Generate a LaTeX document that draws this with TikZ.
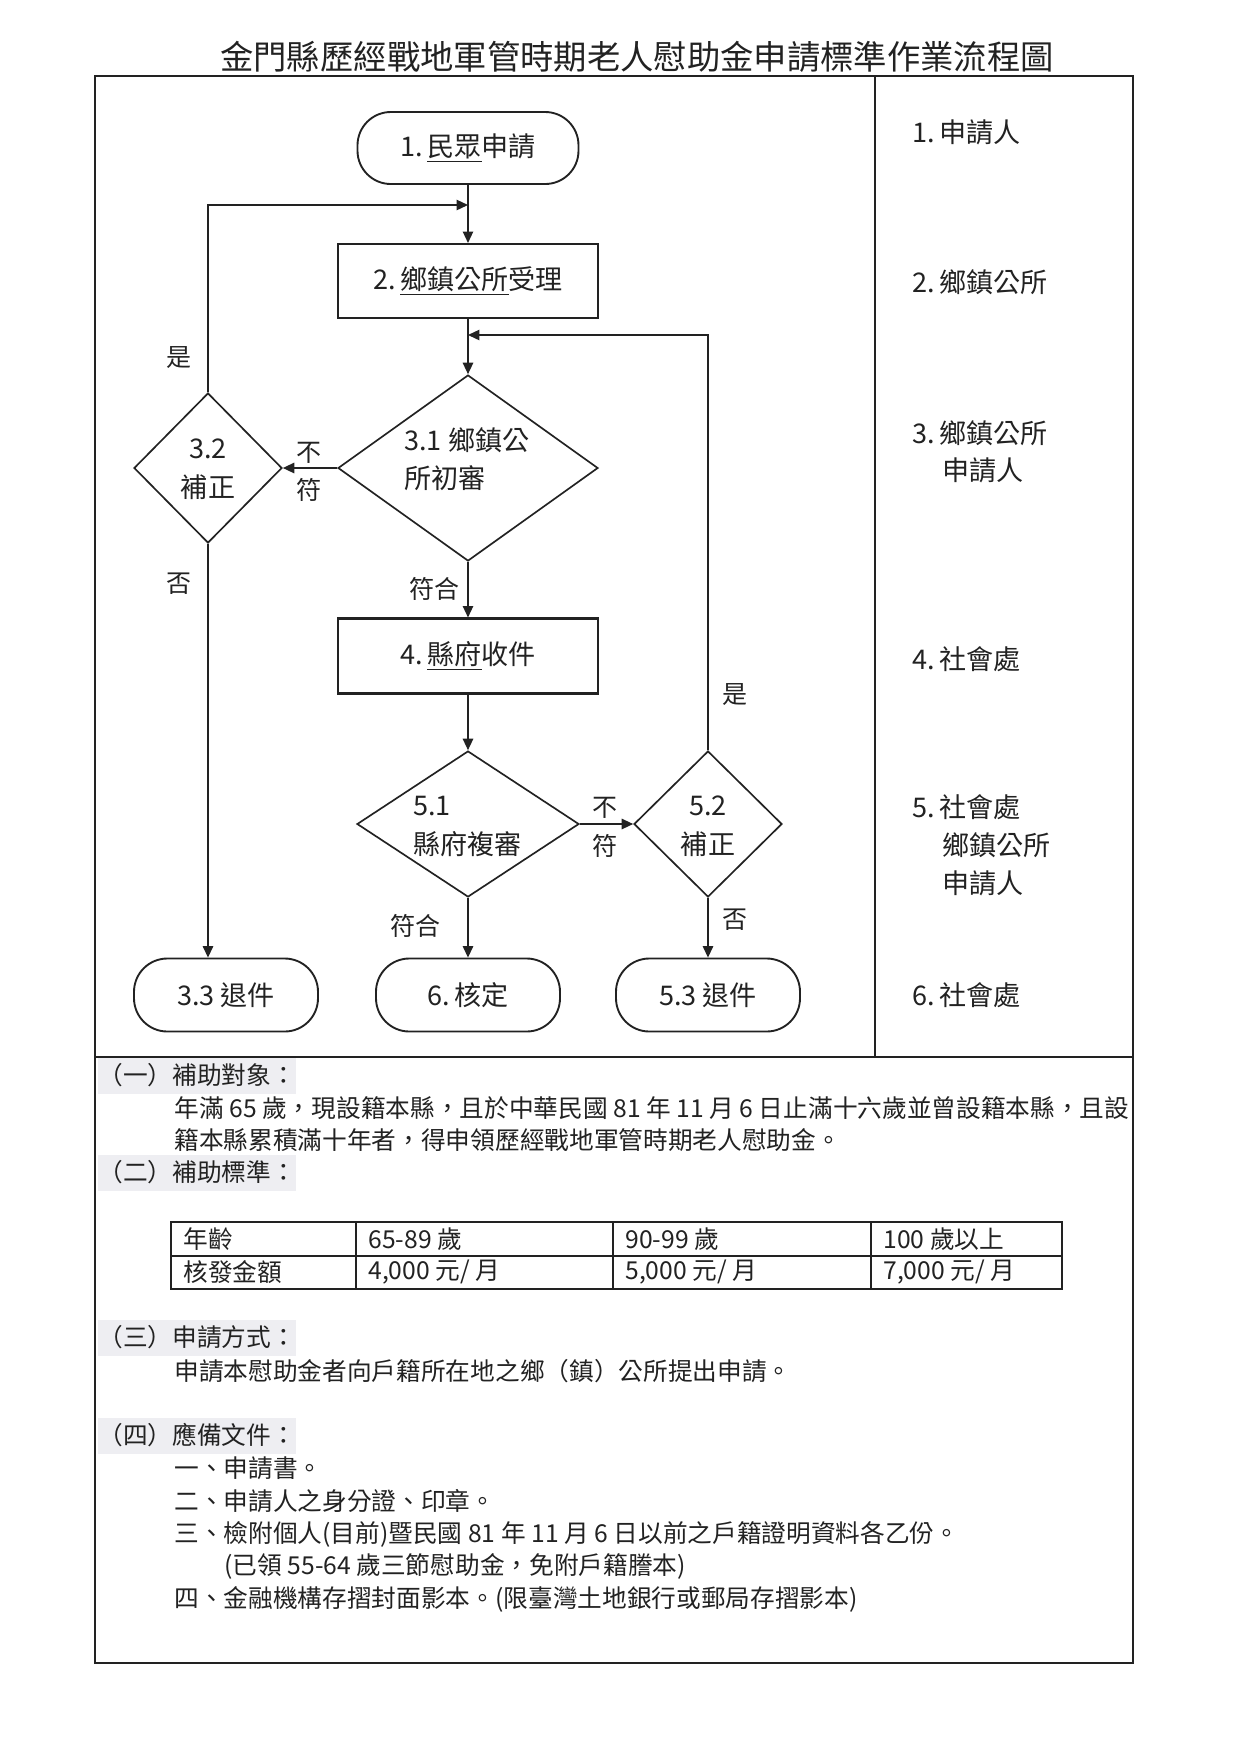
\documentclass[tikz,border=0pt]{standalone}
\usepackage{fontspec}
\setmainfont{Noto Sans CJK TC}
\usetikzlibrary{shapes.geometric,arrows.meta,calc}
\definecolor{ink}{HTML}{222222}
\definecolor{hdbg}{HTML}{EEEEF2}
\begin{document}
\begin{tikzpicture}[x=0.48pt,y=-0.48pt,
  every node/.style={inner sep=0pt, text=ink},
  ftext/.style={font=\fontsize{13pt}{16pt}\selectfont},
  btext/.style={font=\fontsize{11.85pt}{14pt}\selectfont, anchor=west},
  lbl/.style={font=\fontsize{12pt}{14pt}\selectfont},
  term/.style={draw=ink, line width=0.9pt, rounded corners=16pt, minimum width=184*0.48pt, minimum height=73*0.48pt, ftext},
  proc/.style={draw=ink, line width=1pt, minimum width=260*0.48pt, minimum height=74*0.48pt, ftext},
  dec/.style={draw=ink, line width=0.8pt, diamond},
  flow/.style={draw=ink, line width=0.7pt, -{Triangle[length=5.5pt,width=5pt]}},
  hd/.style={btext, fill=hdbg, inner ysep=2.5pt, text height=10.5pt, text depth=2pt},
  lane/.style={ftext, anchor=west},
]
\fill[white] (0,0) rectangle (1240,1754);
\useasboundingbox (0,0) rectangle (1240,1754);

% title
\node[font=\fontsize{16pt}{19pt}\selectfont] (title) at (637,57) {金門縣歷經戰地軍管時期老人慰助金申請標準作業流程圖};

% frame
\draw[ink, line width=1pt] (95,76) rectangle (1133,1663);
\draw[ink, line width=0.9pt] (875,76) -- (875,1057);
\draw[ink, line width=1pt] (95,1057) -- (1133,1057);

% flowchart nodes
\node[term, minimum width=221*0.48pt, minimum height=72*0.48pt] (n1) at (468,148) {1.\,\underline{民眾}申請};
\node[proc] (n2) at (468,281) {2.\,\underline{鄉鎮公所}受理};
\node[dec, minimum width=260*0.48pt, minimum height=186*0.48pt] (d31) at (468,468) {};
\node[dec, minimum width=148*0.48pt, minimum height=150*0.48pt] (d32) at (208,468) {};
\node[proc, minimum height=75*0.48pt] (n4) at (468,656) {4.\,\underline{縣府}收件};
\node[dec, minimum width=222*0.48pt, minimum height=146*0.48pt] (d51) at (468,824) {};
\node[dec, minimum width=148*0.48pt, minimum height=146*0.48pt] (d52) at (708,824) {};
\node[term] (n33) at (226,995) {3.3 退件};
\node[term] (n6) at (468,995) {6.\,核定};
\node[term] (n53) at (708,995) {5.3 退件};

% diamond texts
\node[ftext, anchor=west] (t31a) at (404,440) {3.1 鄉鎮公};
\node[ftext, anchor=west] (t31b) at (404,478) {所初審};
\node[ftext] (t32a) at (208,449) {3.2};
\node[ftext] (t32b) at (208,487) {補正};
\node[ftext, anchor=west] (t51a) at (413,806) {5.1};
\node[ftext, anchor=west] (t51b) at (413,844) {縣府複審};
\node[ftext] (t52a) at (708,806) {5.2};
\node[ftext] (t52b) at (708,844) {補正};

% junction coordinates
\coordinate (j1) at (468,205);
\coordinate (j2) at (468,335);

% connectors
\draw[flow] (n1.south) -- (n2.north);
\draw[flow] (d32.north) |- (j1);
\draw[flow] (n2.south) -- (d31.north);
\draw[flow] (d52.north) |- (j2);
\draw[flow] (d31.west) -- (d32.east);
\draw[flow] (d32.south) -- (d32.south |- n33.north);
\draw[flow] (d31.south) -- (n4.north);
\draw[flow] (n4.south) -- (d51.north);
\draw[flow] (d51.east) -- (d52.west);
\draw[flow] (d51.south) -- (n6.north);
\draw[flow] (d52.south) -- (n53.north);

% connector labels
\node[lbl] (y1) at (179,358) {是};
\node[lbl] (no1) at (179,584) {否};
\node[lbl] (bf1a) at (309,453) {不};
\node[lbl] (bf1b) at (309,490) {符};
\node[lbl] (ok1) at (434,589) {符合};
\node[lbl] (y2) at (735,695) {是};
\node[lbl] (bf2a) at (605,808) {不};
\node[lbl] (bf2b) at (605,846) {符};
\node[lbl] (ok2) at (415,926) {符合};
\node[lbl] (no2) at (735,920) {否};

% lane texts
\node[lane] (r1) at (912,132) {1.\,申請人};
\node[lane] (r2) at (912,282) {2.\,鄉鎮公所};
\node[lane] (r3a) at (912,433) {3.\,鄉鎮公所};
\node[lane] (r3b) at (942,470) {申請人};
\node[lane] (r4) at (912,659) {4.\,社會處};
\node[lane] (r5a) at (912,807) {5.\,社會處};
\node[lane] (r5b) at (942,845) {鄉鎮公所};
\node[lane] (r5c) at (942,883) {申請人};
\node[lane] (r6) at (912,995) {6.\,社會處};

% lower text
\node[hd] (h1) at (98,1076) {（一）補助對象：};
\node[btext] (b1) at (174,1108) {年滿 65 歲，現設籍本縣，且於中華民國 81 年 11 月 6 日止滿十六歲並曾設籍本縣，且設};
\node[btext] (b2) at (174,1140) {籍本縣累積滿十年者，得申領歷經戰地軍管時期老人慰助金。};
\node[hd] (h2) at (98,1173) {（二）補助標準：};

% table
\draw[ink, line width=0.8pt] (171,1222) rectangle (1062,1289);
\draw[ink, line width=0.6pt] (171,1256) -- (1062,1256);
\draw[ink, line width=0.6pt] (356,1222) -- (356,1289);
\draw[ink, line width=0.6pt] (613,1222) -- (613,1289);
\draw[ink, line width=0.6pt] (871,1222) -- (871,1289);
\node[btext] (c11) at (183,1239) {年齡};
\node[btext] (c12) at (368,1239) {65-89 歲};
\node[btext] (c13) at (625,1239) {90-99 歲};
\node[btext] (c14) at (883,1239) {100 歲以上};
\node[btext] (c21) at (183,1272) {核發金額};
\node[btext] (c22) at (368,1272) {4,000 元/ 月};
\node[btext] (c23) at (625,1272) {5,000 元/ 月};
\node[btext] (c24) at (883,1272) {7,000 元/ 月};

\node[hd] (h3) at (98,1338) {（三）申請方式：};
\node[btext] (b3) at (174,1371) {申請本慰助金者向戶籍所在地之鄉（鎮）公所提出申請。};
\node[hd] (h4) at (98,1436) {（四）應備文件：};
\node[btext] (b4) at (174,1468) {一、申請書。};
\node[btext] (b5) at (174,1501) {二、申請人之身分證、印章。};
\node[btext] (b6) at (174,1534) {三、檢附個人(目前)暨民國 81 年 11 月 6 日以前之戶籍證明資料各乙份。};
\node[btext] (b7) at (224,1566) {(已領 55-64 歲三節慰助金，免附戶籍謄本)};
\node[btext] (b8) at (174,1599) {四、金融機構存摺封面影本。(限臺灣土地銀行或郵局存摺影本)};
\end{tikzpicture}
\end{document}
